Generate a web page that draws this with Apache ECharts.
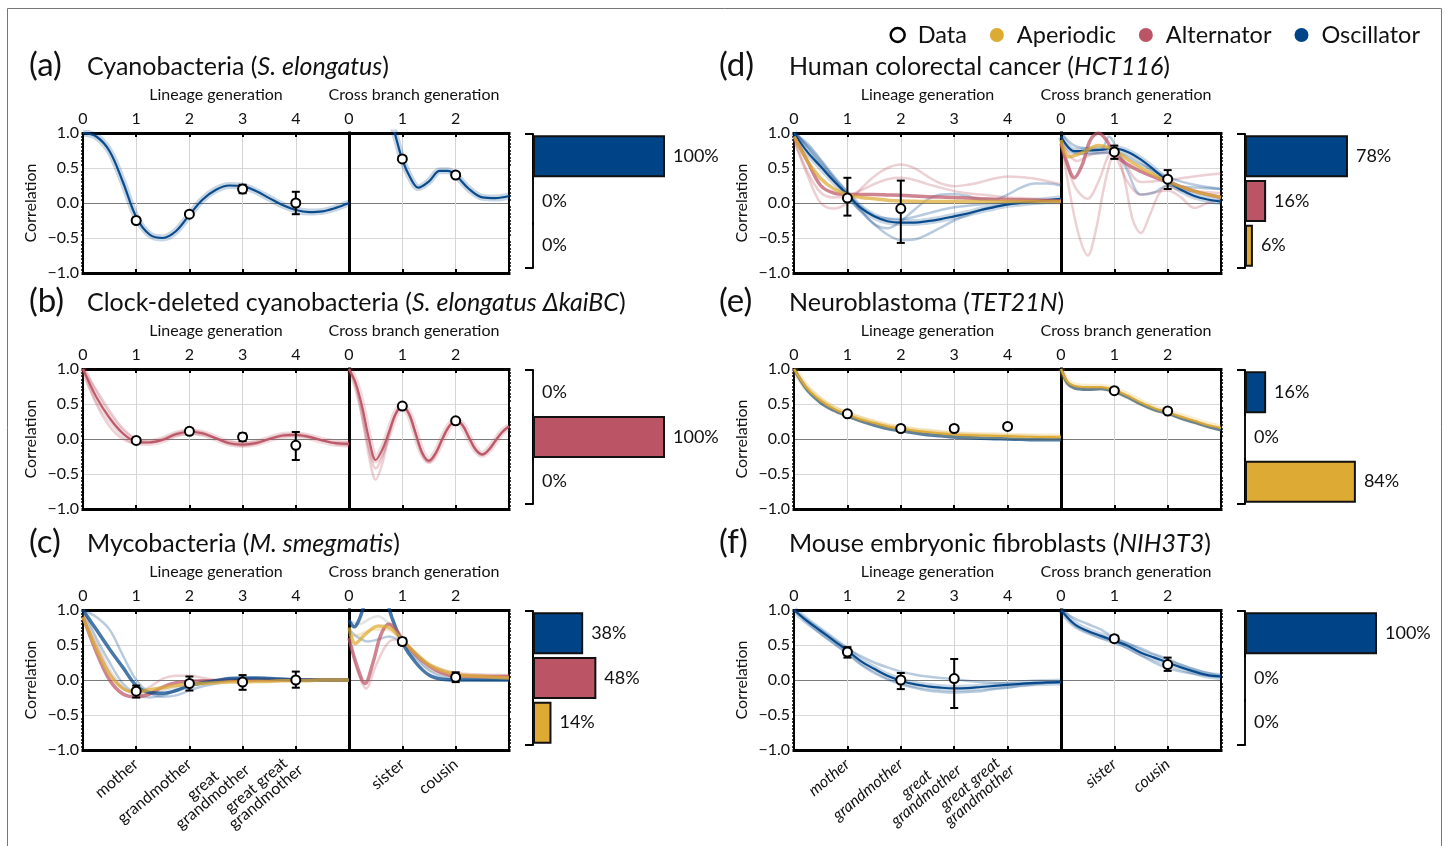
<!DOCTYPE html>
<html>
<head>
<meta charset="utf-8">
<script src="https://cdn.jsdelivr.net/npm/echarts@6/dist/echarts.min.js"></script>
<style>
  html, body { margin: 0; background: #fff; }
  #chart { width: 1447px; height: 846px; }
</style>
</head>
<body>
<div id="chart"></div>
<script>
const genLin = [0, 0.25, 0.5, 0.75, 1, 1.25, 1.5, 1.75, 2, 2.25, 2.5, 2.75, 3, 3.25, 3.5, 3.75, 4, 4.25, 4.5, 4.75, 5]
const genCross = [0, 0.25, 0.5, 0.75, 1, 1.25, 1.5, 1.75, 2, 2.25, 2.5, 2.75, 3]
const genCrossFine = [0, 0.125, 0.25, 0.375, 0.5, 0.625, 0.75, 0.875, 1, 1.125, 1.25, 1.375, 1.5,
  1.625, 1.75, 1.875, 2, 2.125, 2.25, 2.375, 2.5, 2.625, 2.75, 2.875, 3]

// tick labels
const lineageTicks = ['', 'mother', 'grandmother', 'great\ngrandmother', 'great great\ngrandmother', '']
const crossTicks = ['', 'sister', 'cousin', '']
const yTicks = ['−1.0', '−0.5', '0.0', '0.5', '1.0']
const classes = ['Oscillator', 'Alternator', 'Aperiodic']

// (a) cyanobacteria
const aLinOsc = [1.0, 0.95, 0.74, 0.3, -0.2, -0.45, -0.5, -0.4, -0.17, 0.05, 0.19, 0.25, 0.24, 0.17, 0.07, -0.03, -0.1, -0.13, -0.12, -0.07, 0.0]
const aCrossOsc = [[0.7, 1.4], [0.85, 1.02], [1, 0.62], [1.15, 0.36], [1.3, 0.22], [1.5, 0.31], [1.7, 0.46], [1.85, 0.46],
  [2, 0.4], [2.25, 0.2], [2.5, 0.08], [2.75, 0.07], [3, 0.1]]
const aLinData = [[1, -0.25, -0.28, -0.22], [2, -0.16, -0.19, -0.13], [3, 0.2, 0.14, 0.26], [4, 0.0, -0.16, 0.16]]
const aCrossData = [[1, 0.63, 0.6, 0.67], [2, 0.4, 0.37, 0.43]]
const aBars = [100, 0, 0]

// (b) clock-deleted cyanobacteria
const bLinAlt = [1.0, 0.6, 0.3, 0.08, -0.04, -0.05, -0.01, 0.07, 0.1, 0.08, 0.01, -0.06, -0.08, -0.06, 0.0, 0.05, 0.06, 0.03, -0.02, -0.06, -0.07]
const bLinAlt2 = [1.0, 0.5, 0.18, 0.0, -0.06, -0.05, 0.0, 0.08, 0.12, 0.09, 0.01, -0.07, -0.1, -0.07, 0.0, 0.06, 0.07, 0.04, -0.02, -0.07, -0.09]
const bLinAlt3 = [1.0, 0.7, 0.4, 0.15, 0.0, -0.04, -0.02, 0.05, 0.08, 0.06, 0.01, -0.04, -0.06, -0.04, 0.0, 0.04, 0.05, 0.02, -0.02, -0.05, -0.05]
const bCrossAlt = [1.0, 0.8, 0.45, 0.0, -0.3, -0.15, 0.1, 0.36, 0.47, 0.36, 0.08, -0.2, -0.31, -0.2, 0.0, 0.18, 0.26, 0.2, 0.02, -0.15, -0.22, -0.15, -0.02, 0.1, 0.18]
const bCrossAlt2 = [1.0, 0.75, 0.3, -0.25, -0.58, -0.35, 0.05, 0.35, 0.47, 0.35, 0.06, -0.22, -0.33, -0.22, 0.0, 0.18, 0.26, 0.2, 0.02, -0.16, -0.23, -0.16, -0.03, 0.1, 0.19]
const bCrossAlt3 = [1.0, 0.78, 0.38, -0.12, -0.42, -0.25, 0.08, 0.36, 0.47, 0.36, 0.07, -0.21, -0.32, -0.21, 0.0, 0.18, 0.26, 0.2, 0.02, -0.15, -0.22, -0.15, -0.02, 0.1, 0.18]
const bLinData = [[1, -0.02, -0.05, 0.01], [2, 0.11, 0.07, 0.15], [3, 0.03, -0.03, 0.08], [4, -0.09, -0.3, 0.1]]
const bCrossData = [[1, 0.47, 0.45, 0.5], [2, 0.26, 0.24, 0.28]]
const bBars = [0, 100, 0]

// (c) mycobacteria
const cLinOsc = [1.0, 0.72, 0.44, 0.18, -0.08, -0.18, -0.19, -0.15, -0.08, -0.04, -0.01, 0.02, 0.03, 0.03, 0.02, 0.01, 0.0, 0.0, 0.0, 0.0, 0.0]
const cLinOsc2 = [1.0, 0.9, 0.72, 0.35, 0.0, -0.18, -0.24, -0.22, -0.15, -0.09, -0.05, -0.01, 0.02, 0.03, 0.03, 0.02, 0.01, 0.0, 0.0, 0.0, 0.0]
const cLinOsc3 = [1.0, 0.6, 0.25, -0.05, -0.2, -0.25, -0.22, -0.15, -0.08, -0.03, 0.0, 0.02, 0.02, 0.02, 0.01, 0.0, 0.0, 0.0, 0.0, 0.0, 0.0]
const cLinAlt = [0.9, 0.4, 0.0, -0.2, -0.24, -0.2, -0.1, -0.04, -0.02, -0.01, -0.01, 0.0, 0.0, 0.0, 0.0, 0.0, 0.0, 0.0, 0.0, 0.0, 0.0]
const cLinAlt2 = [0.9, 0.5, 0.1, -0.12, -0.18, -0.1, 0.02, 0.06, 0.06, 0.03, 0.0, -0.02, -0.02, -0.01, 0.0, 0.0, 0.0, 0.0, 0.0, 0.0, 0.0]
const cLinAper = [0.9, 0.45, 0.08, -0.12, -0.17, -0.14, -0.11, -0.08, -0.06, -0.05, -0.04, -0.03, -0.03, -0.02, -0.02, -0.01, -0.01, -0.01, 0.0, 0.0, 0.0]
const cLinGray = [0.95, 0.55, 0.15, -0.1, -0.2, -0.2, -0.15, -0.1, -0.07, -0.05, -0.03, -0.01, 0.0, 0.0, 0.0, 0.0, 0.0, 0.0, 0.0, 0.0, 0.0]
const cCrossOsc = [[0, 0.85], [0.1, 0.76], [0.2, 0.88], [0.3, 1.1], [0.5, 1.4], [0.7, 1.15], [0.8, 0.9], [1, 0.53],
  [1.25, 0.25], [1.5, 0.07], [1.75, 0.01], [2, 0.0], [2.5, 0.0], [3, 0.0]]
const cCrossOsc2 = [[0, 0.72], [0.15, 0.62], [0.35, 0.55], [0.55, 0.58], [0.75, 0.62], [1, 0.53], [1.25, 0.32],
  [1.5, 0.14], [1.75, 0.05], [2, 0.02], [2.5, 0.0], [3, 0.0]]
const cCrossGray = [[0, 0.85], [0.2, 0.8], [0.4, 0.88], [0.55, 0.91], [0.75, 0.8], [1, 0.56], [1.25, 0.3],
  [1.5, 0.15], [2, 0.04], [2.5, 0.02], [3, 0.01]]
const cCrossAper = [[0, 0.75], [0.12, 0.52], [0.3, 0.65], [0.55, 0.77], [0.75, 0.75], [1, 0.57], [1.25, 0.38],
  [1.5, 0.22], [1.75, 0.13], [2, 0.08], [2.5, 0.05], [3, 0.03]]
const cCrossAper2 = [[0, 0.62], [0.2, 0.65], [0.45, 0.72], [0.7, 0.72], [1, 0.56], [1.5, 0.24], [2, 0.1], [2.5, 0.06], [3, 0.04]]
const cCrossAlt = [[0, 0.6], [0.15, 0.2], [0.3, -0.05], [0.45, 0.25], [0.6, 0.65], [0.75, 0.8], [0.9, 0.7], [1, 0.58],
  [1.25, 0.36], [1.5, 0.2], [1.75, 0.1], [2, 0.06], [2.5, 0.05], [3, 0.05]]
const cCrossAlt2 = [[0, 0.6], [0.15, 0.15], [0.32, -0.12], [0.5, 0.2], [0.7, 0.5], [0.85, 0.58], [1, 0.56], [1.25, 0.38],
  [1.5, 0.22], [2, 0.1], [2.5, 0.08], [3, 0.07]]
const cLinData = [[1, -0.16, -0.25, -0.08], [2, -0.05, -0.15, 0.05], [3, -0.03, -0.14, 0.07], [4, 0.0, -0.11, 0.12]]
const cCrossData = [[1, 0.55, 0.5, 0.6], [2, 0.04, -0.03, 0.11]]
const cBars = [38, 48, 14]

// (d) human colorectal cancer
const dLinOsc = [1.0, 0.73, 0.52, 0.31, 0.12, -0.07, -0.19, -0.26, -0.28, -0.28, -0.26, -0.23, -0.19, -0.15, -0.1, -0.06, -0.02, 0.0, 0.02, 0.04, 0.06]
const dLinOsc2 = [1.0, 0.8, 0.55, 0.32, 0.1, -0.12, -0.3, -0.45, -0.53, -0.52, -0.45, -0.35, -0.25, -0.17, -0.1, -0.05, -0.02, 0.0, 0.0, 0.0, 0.0]
const dLinOsc3 = [1.0, 0.82, 0.6, 0.35, 0.12, -0.1, -0.3, -0.36, -0.26, -0.1, 0.05, 0.12, 0.13, 0.1, 0.05, 0.05, 0.12, 0.22, 0.28, 0.28, 0.25]
const dLinOsc4 = [1.0, 0.85, 0.62, 0.38, 0.15, -0.05, -0.18, -0.22, -0.23, -0.2, -0.15, -0.1, -0.06, -0.04, -0.02, 0.0, 0.01, 0.02, 0.03, 0.04, 0.05]
const dLinAlt = [0.95, 0.6, 0.25, 0.14, 0.12, 0.12, 0.12, 0.115, 0.11, 0.1, 0.09, 0.085, 0.08, 0.07, 0.06, 0.055, 0.05, 0.045, 0.04, 0.035, 0.03]
const dLinAlt2 = [0.9, 0.4, 0.0, -0.08, 0.0, 0.2, 0.38, 0.5, 0.55, 0.5, 0.38, 0.28, 0.24, 0.26, 0.3, 0.35, 0.38, 0.37, 0.35, 0.31, 0.27]
const dLinAlt3 = [0.9, 0.45, 0.15, 0.08, 0.1, 0.18, 0.27, 0.34, 0.36, 0.33, 0.27, 0.22, 0.17, 0.14, 0.12, 0.1, 0.08, 0.07, 0.06, 0.05, 0.04]
const dLinAper = [0.95, 0.6, 0.35, 0.2, 0.12, 0.08, 0.06, 0.04, 0.03, 0.025, 0.02, 0.02, 0.02, 0.02, 0.02, 0.02, 0.02, 0.02, 0.02, 0.02, 0.02]
const dCrossOsc = [[0, 0.95], [0.25, 0.74], [0.5, 0.75], [0.75, 0.76], [1, 0.78], [1.25, 0.73], [1.5, 0.62], [1.75, 0.47],
  [2, 0.31], [2.25, 0.19], [2.5, 0.1], [2.75, 0.05], [3, 0.02]]
const dCrossOsc2 = [[0, 1.0], [0.25, 0.82], [0.5, 0.78], [0.75, 0.77], [0.9, 0.95], [1, 0.85], [1.25, 0.45], [1.5, 0.12],
  [1.75, 0.15], [2, 0.25], [2.5, 0.22], [3, 0.2]]
const dCrossOsc3 = [[0, 0.95], [0.25, 0.72], [0.5, 0.7], [1, 0.72], [1.5, 0.55], [2, 0.37], [2.5, 0.26], [3, 0.2]]
const dCrossAper = [[0, 0.9], [0.15, 0.66], [0.4, 0.72], [0.7, 0.82], [1, 0.75], [1.25, 0.62], [1.5, 0.5], [1.75, 0.4],
  [2, 0.3], [2.5, 0.17], [3, 0.08]]
const dCrossAlt = [[0, 0.85], [0.1, 0.6], [0.25, 0.36], [0.4, 0.55], [0.55, 0.9], [0.7, 1.0], [0.85, 0.9], [1, 0.7],
  [1.25, 0.55], [1.5, 0.45], [1.75, 0.37], [2, 0.3], [2.5, 0.17], [3, 0.08]]
const dCrossAlt2 = [[0, 0.9], [0.2, 0.0], [0.35, -0.5], [0.5, -0.75], [0.65, -0.4], [0.8, 0.2], [0.95, 0.65], [1.05, 0.7],
  [1.2, 0.3], [1.35, -0.25], [1.5, -0.43], [1.65, -0.2], [1.85, 0.15], [2, 0.24], [2.25, 0.18], [2.5, 0.17], [3, 0.14]]
const dCrossAlt3 = [[0, 0.9], [0.25, 0.25], [0.5, 0.06], [0.7, 0.3], [0.95, 0.72], [1.25, 0.3], [1.5, 0.12], [1.75, 0.15],
  [2, 0.18], [2.25, 0.08], [2.5, -0.07], [2.75, 0.0], [3, 0.05]]
const dCrossAlt4 = [[0, 0.9], [0.3, 0.6], [0.6, 0.7], [1, 0.72], [1.5, 0.3], [2, 0.33], [2.5, 0.38], [3, 0.42]]
const dLinData = [[1, 0.07, -0.18, 0.36], [2, -0.08, -0.57, 0.32]]
const dCrossData = [[1, 0.73, 0.63, 0.82], [2, 0.34, 0.2, 0.47]]
const dBars = [78, 16, 6]

// (e) neuroblastoma
const eLinAper = [1.0, 0.72, 0.55, 0.43, 0.35, 0.28, 0.23, 0.18, 0.15, 0.12, 0.1, 0.08, 0.065, 0.055, 0.05, 0.045, 0.04, 0.035, 0.03, 0.028, 0.025]
const eLinAper2 = [1.0, 0.75, 0.58, 0.46, 0.38, 0.31, 0.25, 0.2, 0.17, 0.14, 0.12, 0.1, 0.085, 0.075, 0.065, 0.06, 0.055, 0.05, 0.045, 0.04, 0.04]
const eLinOsc = [1.0, 0.7, 0.52, 0.41, 0.33, 0.26, 0.2, 0.15, 0.12, 0.09, 0.06, 0.045, 0.03, 0.02, 0.01, 0.005, 0.0, -0.005, -0.01, -0.01, -0.01]
const eCrossAper = [[0, 1.0], [0.12, 0.82], [0.25, 0.76], [0.5, 0.74], [0.75, 0.74], [1, 0.7], [1.25, 0.62], [1.5, 0.52],
  [1.75, 0.44], [2, 0.38], [2.25, 0.32], [2.5, 0.26], [2.75, 0.2], [3, 0.16]]
const eCrossOsc = [[0, 1.0], [0.12, 0.8], [0.25, 0.73], [0.5, 0.71], [0.75, 0.72], [1, 0.68], [1.25, 0.6], [1.5, 0.5],
  [1.75, 0.42], [2, 0.37], [2.25, 0.3], [2.5, 0.24], [2.75, 0.18], [3, 0.13]]
const eLinData = [[1, 0.36, 0.33, 0.39], [2, 0.15, 0.13, 0.17], [3, 0.15, 0.12, 0.18], [4, 0.18, 0.15, 0.21]]
const eCrossData = [[1, 0.69, 0.66, 0.72], [2, 0.4, 0.38, 0.42]]
const eBars = [16, 0, 84]

// (f) mouse embryonic fibroblasts
const fLinOsc = [1.0, 0.84, 0.7, 0.56, 0.42, 0.27, 0.16, 0.06, -0.01, -0.06, -0.09, -0.11, -0.12, -0.115, -0.1, -0.085, -0.07, -0.055, -0.04, -0.035, -0.03]
const fLinOsc2 = [1.0, 0.86, 0.72, 0.58, 0.45, 0.34, 0.25, 0.18, 0.12, 0.08, 0.05, 0.03, 0.01, -0.01, -0.03, -0.04, -0.05, -0.05, -0.05, -0.04, -0.03]
const fLinOsc3 = [1.0, 0.82, 0.66, 0.52, 0.38, 0.22, 0.1, 0.01, -0.06, -0.11, -0.15, -0.17, -0.18, -0.17, -0.16, -0.13, -0.11, -0.08, -0.06, -0.04, -0.03]
const fCrossOsc = [1.0, 0.8, 0.7, 0.63, 0.56, 0.49, 0.39, 0.32, 0.25, 0.18, 0.12, 0.07, 0.05]
const fCrossOsc2 = [1.0, 0.88, 0.8, 0.72, 0.6, 0.52, 0.45, 0.37, 0.3, 0.22, 0.15, 0.1, 0.06]
const fCrossOsc3 = [1.0, 0.78, 0.68, 0.6, 0.55, 0.45, 0.35, 0.25, 0.17, 0.12, 0.09, 0.06, 0.04]
const fLinData = [[1, 0.4, 0.32, 0.47], [2, 0.0, -0.13, 0.1], [3, 0.02, -0.4, 0.3]]
const fCrossData = [[1, 0.59, 0.55, 0.63], [2, 0.22, 0.13, 0.32]]
const fBars = [100, 0, 0]

const BLUE = '#004488', RED = '#BB5566', YELLOW = '#DDAA33', GRAY = '#9a9a9a'
const colorName = { [BLUE]: 'Oscillator', [RED]: 'Alternator', [YELLOW]: 'Aperiodic' }
const classColors = [BLUE, RED, YELLOW]
const zip = (xs, ys) => xs.map((x, i) => [x, ys[i]])
const L = (ys) => zip(genLin, ys)
const C = (ys) => zip(genCross, ys)

const panels = [
  { tag: '(a)', title: 'Cyanobacteria ({i|S. elongatus})', col: 0, row: 0,
    lin: [[L(aLinOsc), BLUE, 'main']],
    cross: [[aCrossOsc, BLUE, 'main']],
    linData: aLinData, crossData: aCrossData, bars: aBars },
  { tag: '(b)', title: 'Clock-deleted cyanobacteria ({i|S. elongatus ΔkaiBC})', col: 0, row: 1,
    lin: [[L(bLinAlt2), RED, 'faint'], [L(bLinAlt3), RED, 'faint'], [L(bLinAlt), RED, 'main']],
    cross: [[zip(genCrossFine, bCrossAlt2), RED, 'faint'], [zip(genCrossFine, bCrossAlt3), RED, 'faint'], [zip(genCrossFine, bCrossAlt), RED, 'main']],
    linData: bLinData, crossData: bCrossData, bars: bBars },
  { tag: '(c)', title: 'Mycobacteria ({i|M. smegmatis})', col: 0, row: 2, bottomLabels: true,
    lin: [[L(cLinOsc2), BLUE, 'faint'], [L(cLinOsc3), BLUE, 'faint'], [L(cLinAlt2), RED, 'faint'], [L(cLinGray), GRAY, 'faint'],
      [L(cLinAlt), RED, 'mid'], [L(cLinOsc), BLUE, 'mid'], [L(cLinAper), YELLOW, 'mid']],
    cross: [[cCrossOsc2, BLUE, 'faint'], [cCrossAlt2, RED, 'faint'], [cCrossGray, GRAY, 'faint'], [cCrossAper2, YELLOW, 'faint'],
      [cCrossOsc, BLUE, 'mid'], [cCrossAlt, RED, 'mid'], [cCrossAper, YELLOW, 'mid']],
    linData: cLinData, crossData: cCrossData, bars: cBars },
  { tag: '(d)', title: 'Human colorectal cancer ({i|HCT116})', col: 1, row: 0,
    lin: [[L(dLinAlt2), RED, 'faint'], [L(dLinAlt3), RED, 'faint'], [L(dLinOsc2), BLUE, 'faint'], [L(dLinOsc3), BLUE, 'faint'],
      [L(dLinOsc4), BLUE, 'faint'], [L(dLinOsc), BLUE, 'main'], [L(dLinAlt), RED, 'mid'], [L(dLinAper), YELLOW, 'mid']],
    cross: [[dCrossAlt2, RED, 'faint'], [dCrossAlt3, RED, 'faint'], [dCrossAlt4, RED, 'faint'], [dCrossOsc2, BLUE, 'faint'],
      [dCrossOsc3, BLUE, 'faint'], [dCrossAlt, RED, 'mid'], [dCrossOsc, BLUE, 'main'], [dCrossAper, YELLOW, 'mid']],
    linData: dLinData, crossData: dCrossData, bars: dBars },
  { tag: '(e)', title: 'Neuroblastoma ({i|TET21N})', col: 1, row: 1,
    lin: [[L(eLinOsc), BLUE, 'mid'], [L(eLinAper2), YELLOW, 'faint'], [L(eLinAper), YELLOW, 'main']],
    cross: [[eCrossOsc, BLUE, 'mid'], [eCrossAper, YELLOW, 'main']],
    linData: eLinData, crossData: eCrossData, bars: eBars },
  { tag: '(f)', title: 'Mouse embryonic fibroblasts ({i|NIH3T3})', col: 1, row: 2, bottomLabels: true, italicLabels: true,
    lin: [[L(fLinOsc2), BLUE, 'faint'], [L(fLinOsc3), BLUE, 'faint'], [L(fLinOsc), BLUE, 'main']],
    cross: [[C(fCrossOsc2), BLUE, 'faint'], [C(fCrossOsc3), BLUE, 'faint'], [C(fCrossOsc), BLUE, 'main']],
    linData: fLinData, crossData: fCrossData, bars: fBars }
]

// layout
const rowTop = [133, 369, 610]
const plotH = 140
const linLeft = [83, 794], linW = [266, 267]
const crossLeft = [349, 1061], crossW = 160
const barLeft = [533, 1245], barW = 132, barH = 134
const tagLeft = [29, 719], titleLeft = [87, 789]
const INK = '#111'
const AXIS_FONT = 16

const option = {
  animation: false,
  textStyle: { fontFamily: 'Lato', color: INK },
  title: [], grid: [], xAxis: [], yAxis: [], series: [],
  legend: {
    right: 27, top: 23, padding: 0, icon: 'circle', itemWidth: 14, itemHeight: 14, itemGap: 23,
    selectedMode: false,
    textStyle: { fontSize: 23.5, color: INK, fontFamily: 'Lato', padding: [0, 0, 0, 8] },
    data: [
      { name: 'Data', itemStyle: { color: '#fff', borderColor: '#000', borderWidth: 2.5 } },
      { name: 'Aperiodic', itemStyle: { color: YELLOW, opacity: 1 } },
      { name: 'Alternator', itemStyle: { color: RED, opacity: 1 } },
      { name: 'Oscillator', itemStyle: { color: BLUE, opacity: 1 } }
    ]
  },
  graphic: [{ type: 'rect', shape: { x: 7.5, y: 8.5, width: 1434, height: 860 },
    style: { fill: 'none', stroke: '#777', lineWidth: 1 }, silent: true }]
}

const frameLine = { color: '#000', width: 3, cap: 'square' }
const tickInside = { show: true, inside: true, length: 4, lineStyle: { color: '#000', width: 2 } }

function topAxis(gi, max, name, shift) {
  return {
    type: 'value', gridIndex: gi, position: 'top', min: 0, max, interval: 1,
    name, nameLocation: 'middle', nameGap: 30,
    nameTextStyle: { fontSize: AXIS_FONT, color: INK, padding: [0, shift, 0, 0] },
    axisLine: { show: true, onZero: false, lineStyle: frameLine }, axisTick: tickInside,
    axisLabel: { fontSize: AXIS_FONT, color: INK, margin: 6, formatter: v => (v < max ? String(v) : '') },
    splitLine: { show: true, lineStyle: { color: '#d4d4d4', width: 1 } }
  }
}
function bottomAxis(gi, max, labels, p) {
  const st = p.italicLabels ? 'italic' : 'normal'
  return {
    type: 'value', gridIndex: gi, position: 'bottom', min: 0, max, interval: 1,
    axisLine: { show: true, onZero: false, lineStyle: frameLine }, axisTick: tickInside,
    axisLabel: {
      show: !!p.bottomLabels, rotate: 40, fontSize: AXIS_FONT, color: INK, margin: 12, fontStyle: st,
      // each line centred on the longest one
      formatter: v => (labels[v] || '').split('\n').map(s => (s ? '{c|' + s + '}' : '')).join('\n'),
      rich: { c: { align: 'center', fontSize: AXIS_FONT, lineHeight: 15, color: INK, fontStyle: st, fontFamily: 'Lato' } }
    },
    splitLine: { show: false }
  }
}
const yGridColors = ['#d8d8d8', '#d8d8d8', '#7a7a7a', '#d8d8d8', '#d8d8d8']
function corrAxis(gi, side, extra) {
  return Object.assign({
    type: 'value', gridIndex: gi, position: side, min: -1, max: 1, interval: 0.5,
    axisLine: { show: true, onZero: false, lineStyle: { color: '#000', width: 2, cap: 'square' } },
    axisTick: { show: false },
    minorTick: { show: true, splitNumber: 10, length: 2, lineStyle: { color: '#000', width: 1.5 } },
    axisLabel: { show: false },
    splitLine: { show: false }
  }, extra)
}

function curveSeries(xi, yi, pts, color, kind) {
  const styles = {
    main: [{ w: 7, o: 0.22 }, { w: 2.2, o: 0.95 }],
    mid: [{ w: 3.5, o: 0.72 }],
    faint: [{ w: 2.5, o: 0.28 }]
  }[kind]
  return styles.map(s => ({
    type: 'line', name: colorName[color], xAxisIndex: xi, yAxisIndex: yi, data: pts,
    smooth: 0.35, symbol: 'none', silent: true, clip: true, z: 2,
    lineStyle: { color, width: s.w, opacity: s.o }, itemStyle: { color }
  }))
}

function errorBars(params, api) {
  const x = api.value(0)
  const top = api.coord([x, api.value(3)])
  const bot = api.coord([x, api.value(2)])
  const w = 4
  const st = { stroke: '#000', lineWidth: 2 }
  return {
    type: 'group', children: [
      { type: 'line', shape: { x1: top[0], y1: top[1], x2: bot[0], y2: bot[1] }, style: st },
      { type: 'line', shape: { x1: top[0] - w, y1: top[1], x2: top[0] + w, y2: top[1] }, style: st },
      { type: 'line', shape: { x1: bot[0] - w, y1: bot[1], x2: bot[0] + w, y2: bot[1] }, style: st }
    ]
  }
}
function dataSeries(xi, yi, rows) {
  return [
    { type: 'custom', xAxisIndex: xi, yAxisIndex: yi, data: rows, renderItem: errorBars,
      encode: { x: 0, y: [1, 2, 3] }, silent: true, z: 5 },
    { type: 'scatter', name: 'Data', xAxisIndex: xi, yAxisIndex: yi, data: rows.map(r => [r[0], r[1]]),
      symbolSize: 9, silent: true, z: 6,
      itemStyle: { color: '#fff', borderColor: '#000', borderWidth: 2, opacity: 1 } }
  ]
}

panels.forEach(p => {
  const top = rowTop[p.row]
  const g = option.grid.length
  option.grid.push({ left: linLeft[p.col], top, width: linW[p.col], height: plotH })
  option.grid.push({ left: crossLeft[p.col], top, width: crossW, height: plotH })
  option.grid.push({ left: barLeft[p.col], top: top + 1, width: barW, height: barH })

  option.title.push({ text: p.tag, left: tagLeft[p.col], top: top - 84, padding: 0,
    textStyle: { fontSize: 33, fontWeight: 'normal', color: INK, fontFamily: 'Lato' } })
  option.title.push({ text: p.title, left: titleLeft[p.col], top: top - 79, padding: 0,
    textStyle: { fontSize: 25, fontWeight: 'normal', color: INK, fontFamily: 'Lato',
      rich: { i: { fontSize: 25, fontStyle: 'italic', color: INK, fontFamily: 'Lato' } } } })

  // axes of the lineage plot
  const xl = option.xAxis.length
  option.xAxis.push(topAxis(g, 5, 'Lineage generation', 0))
  option.xAxis.push(bottomAxis(g, 5, lineageTicks, p))
  const yl = option.yAxis.length
  option.yAxis.push(corrAxis(g, 'left', {
    name: 'Correlation', nameLocation: 'middle', nameGap: 44,
    nameTextStyle: { fontSize: AXIS_FONT, color: INK },
    axisLabel: { show: true, fontSize: AXIS_FONT, color: INK, margin: 4, formatter: v => yTicks[Math.round((v + 1) * 2)] },
    splitLine: { show: true, lineStyle: { color: yGridColors, width: 1 } }
  }))

  // axes of the cross branch plot
  const xc = option.xAxis.length
  option.xAxis.push(topAxis(g + 1, 3, 'Cross branch generation', 30))
  option.xAxis.push(bottomAxis(g + 1, 3, crossTicks, p))
  const yc = option.yAxis.length
  option.yAxis.push({
    type: 'value', gridIndex: g + 1, position: 'left', min: -1, max: 1, interval: 0.5,
    axisLine: { show: true, onZero: false, lineStyle: frameLine }, axisTick: { show: false }, axisLabel: { show: false },
    splitLine: { show: true, lineStyle: { color: yGridColors, width: 1 } }
  })
  option.yAxis.push(corrAxis(g + 1, 'right', {}))

  // axes of the class fractions
  const xb = option.xAxis.length
  option.xAxis.push({ type: 'value', gridIndex: g + 2, min: 0, max: 100, show: false })
  const yb = option.yAxis.length
  option.yAxis.push({ type: 'category', gridIndex: g + 2, data: classes, inverse: true,
    axisLine: { show: false }, axisTick: { show: false }, axisLabel: { show: false } })
  option.yAxis.push({ type: 'value', gridIndex: g + 2, min: 0, max: 3, interval: 3, position: 'left',
    axisLine: { show: true, onZero: false, lineStyle: { color: '#000', width: 2 } },
    axisTick: { show: true, inside: false, length: 8, lineStyle: { color: '#000', width: 2 } },
    axisLabel: { show: false }, splitLine: { show: false } })

  p.lin.forEach(([pts, color, kind]) => option.series.push(...curveSeries(xl, yl, pts, color, kind)))
  p.cross.forEach(([pts, color, kind]) => option.series.push(...curveSeries(xc, yc, pts, color, kind)))
  option.series.push(...dataSeries(xl, yl, p.linData))
  option.series.push(...dataSeries(xc, yc, p.crossData))

  option.series.push({
    type: 'bar', xAxisIndex: xb, yAxisIndex: yb, silent: true, barCategoryGap: '6%',
    data: p.bars.map((v, i) => ({ value: v, itemStyle: { color: classColors[i] } })),
    itemStyle: { borderColor: '#111', borderWidth: 2 },
    label: { show: true, position: 'right', distance: 8, fontSize: 18, color: INK, fontFamily: 'Lato', formatter: '{c}%' }
  })
})

const chart = echarts.init(document.getElementById('chart'))
chart.setOption(option)
window.addEventListener('resize', () => chart.resize())
</script>
</body>
</html>
